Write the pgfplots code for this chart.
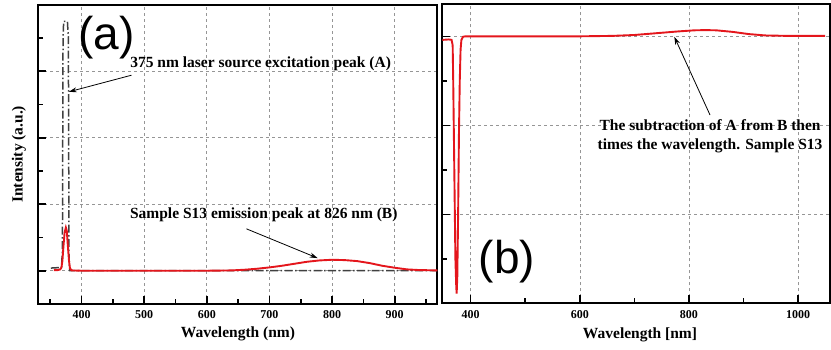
\documentclass[border=0pt]{standalone}
\usepackage{pgfplots}
\pgfplotsset{compat=1.18}
\usepackage{fontspec}
\setmainfont{Liberation Serif}
\newfontfamily\arialf{Liberation Sans}
\usetikzlibrary{arrows.meta}
\definecolor{cred}{RGB}{228,22,28}
\definecolor{cgrid}{RGB}{150,150,150}
\pgfplotsset{
  common/.style={
    scale only axis,
    axis line style={line width=2pt},
    tick align=inside,
    xtick pos=left, ytick pos=left,
    major tick length=8pt, minor tick length=5pt,
    every tick/.style={black, line width=1.6pt},
    grid style={dashed, cgrid, line width=0.6pt},
    xmajorgrids, ymajorgrids,
    /pgf/number format/assume math mode=true,
    /pgf/number format/1000 sep={},
    tick label style={font=\fontsize{12}{14}\selectfont\bfseries},
    xticklabel style={anchor=center, yshift=-11pt},
    label style={font=\fontsize{15.5}{18}\selectfont\bfseries},
    yticklabels={},
    clip=true,
  }
}
\begin{document}
\begin{tikzpicture}
\useasboundingbox (0,0) rectangle (831pt,350pt);
% ---------- panel (a)
\begin{axis}[common,
  at={(38.3pt,46pt)}, anchor=south west,
  width=399pt, height=299.3pt,
  xmin=331, xmax=968, ymin=-1, ymax=8,
  xtick={400,500,...,900}, minor xtick={350,450,...,950},
  ytick={0,2,4,6}, minor ytick={1,3,5,7},
  xlabel={Wavelength (nm)}, ylabel={Intensity (a.u.)},
  xlabel style={at={(axis description cs:0.5005,-0.1002)}, anchor=center},
  ylabel style={at={(axis description cs:-0.0484,0.5)}, anchor=center},
]
\addplot[black!75, line width=1.5pt, dash pattern=on 8pt off 2.5pt on 1.5pt off 2.5pt] coordinates {
(351,0.08) (360,0.09) (368,0.1) (369.5,0.6) (370.5,7.0) (371.5,7.5) (377.5,7.5) (379,7.0) (380,0.5) (381,0) (968,0)};
\addplot[cred, line width=1.9pt] coordinates {
(356,0.02) (362,0.02) (366,0.04) (368,0.1) (369.5,0.3) (371,0.7) (373,1.15) (375,1.3) (376.5,1.2) (378,0.8) (380,0.3) (381.5,0.08) (384,0.01) (400,0) (500,0) (600,0) (640,0.01) (660,0.03) (680,0.06) (700,0.1) (720,0.15) (740,0.21) (760,0.27) (780,0.31) (800,0.33) (820,0.32) (840,0.29) (860,0.23) (880,0.15) (900,0.09) (920,0.04) (940,0.02) (970,0.01)};
\node[font=\fontsize{15.5}{18}\selectfont\bfseries] at (axis cs:686,6.21) {375 nm laser source excitation peak (A)};
\draw[line width=0.8pt, -{Stealth[length=8pt,width=5pt]}] (axis cs:479.8,5.88) -- (axis cs:379.7,5.38);
\node[font=\fontsize{15.5}{18}\selectfont\bfseries] at (axis cs:691,1.68) {Sample S13 emission peak at 826 nm (B)};
\draw[line width=0.8pt, -{Stealth[length=8pt,width=5pt]}] (axis cs:663.3,1.26) -- (axis cs:777,0.38);
\node[font=\arialf\fontsize{46}{50}\selectfont] at (axis cs:440,7.0) {(a)};
\end{axis}
% ---------- panel (b)
\begin{axis}[common,
  at={(442.3pt,46.7pt)}, anchor=south west,
  width=387.7pt, height=299pt,
  xmin=348, xmax=1058.5, ymin=0, ymax=6.72,
  xtick={400,600,800,1000}, minor xtick={500,700,900},
  ytick={2,4,6}, minor ytick={1,3,5},
  xlabel={Wavelength [nm]},
  xlabel style={at={(axis description cs:0.51,-0.106)}, anchor=center},
]
\addplot[cred, line width=1.9pt] coordinates {
(348,5.92) (360,5.93) (365,5.92) (367,5.8) (368,5.0) (370,3.0) (372,1.0) (373.5,0.4) (374.3,0.22) (375.5,0.6) (377,2.0) (378.5,3.8) (380,5.0) (381.5,5.7) (383,5.92) (386,5.99) (390,6.0) (500,6.0) (600,6.0) (660,6.01) (700,6.03) (740,6.07) (780,6.11) (810,6.135) (830,6.14) (850,6.135) (880,6.1) (910,6.05) (940,6.02) (980,6.01) (1049.5,6.01)};
\node[font=\fontsize{15.5}{19}\selectfont\bfseries, align=center] at (axis cs:838.7,3.755) {The subtraction of A from B then\\times the wavelength. Sample S13};
\draw[line width=0.8pt, -{Stealth[length=8pt,width=5pt]}] (axis cs:838.7,4.23) -- (axis cs:773.2,5.99);
\node[font=\arialf\fontsize{46}{50}\selectfont] at (axis cs:466.5,0.94) {(b)};
\end{axis}
\end{tikzpicture}
\end{document}
